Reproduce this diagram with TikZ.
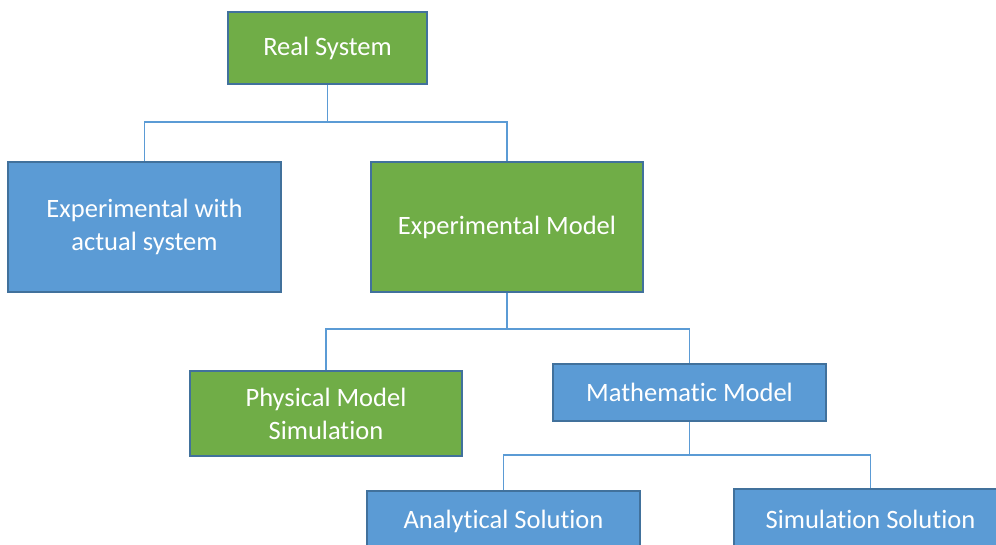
\documentclass[tikz,border=0pt]{standalone}
\usetikzlibrary{calc}
\usepackage{fontspec}
\setmainfont[Ligatures={NoCommon}]{Carlito}
\definecolor{boxgreen}{HTML}{70AD47}
\definecolor{boxblue}{HTML}{5B9BD5}
\definecolor{boxedge}{HTML}{41719C}
\definecolor{connblue}{HTML}{5B9BD5}
\begin{document}
\begin{tikzpicture}[x=1pt,y=-1pt,
  box/.style={draw=boxedge, line width=2pt, rectangle, inner sep=0pt, text=white, align=center, font=\fontsize{26.5}{33}\selectfont},
  gbox/.style={box, fill=boxgreen},
  bbox/.style={box, fill=boxblue},
  conn/.style={draw=connblue, line width=1.2pt}]
\useasboundingbox (0,0) rectangle (996,544);
\clip (0,0) rectangle (996,544);
\node[gbox, minimum width=199pt, minimum height=72pt] (rs) at (327.5,48) {Real System};
\node[bbox, minimum width=273pt, minimum height=130pt] (eas) at (144.5,227) {Experimental with\\actual system};
\node[gbox, minimum width=272pt, minimum height=130pt] (em) at (507,227) {Experimental Model};
\node[gbox, minimum width=272pt, minimum height=85pt] (pms) at (326,413.5) {Physical Model\\Simulation};
\node[bbox, minimum width=273pt, minimum height=57pt] (mm) at (689.5,392.5) {Mathematic Model};
\node[bbox, minimum width=273pt, minimum height=60pt] (as) at (503.5,521) {Analytical Solution};
\node[bbox, minimum width=273pt, minimum height=60pt] (ss) at (870.5,519) {Simulation Solution};
\coordinate (j1) at ($(rs.south)+(0,37)$);
\coordinate (j2) at ($(em.south)+(0,36)$);
\coordinate (j3) at ($(mm.south)+(0,33)$);
\draw[conn] (rs.south) -- (j1);
\draw[conn] (eas.north) |- (j1) -| (em.north);
\draw[conn] (em.south) -- (j2);
\draw[conn] (pms.north) |- (j2) -| (mm.north);
\draw[conn] (mm.south) -- (j3);
\draw[conn] (as.north) |- (j3) -| (ss.north);
\end{tikzpicture}
\end{document}
